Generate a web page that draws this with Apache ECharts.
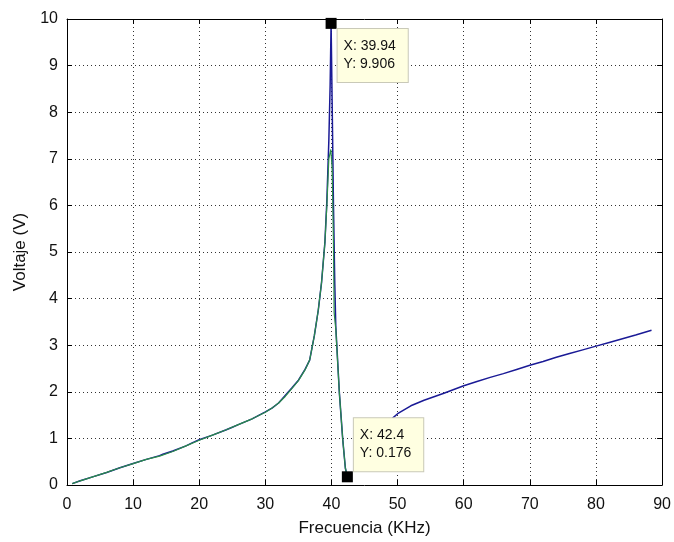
<!DOCTYPE html>
<html>
<head>
<meta charset="utf-8">
<script src="https://cdn.jsdelivr.net/npm/echarts@6/dist/echarts.min.js"></script>
<style>
html,body{margin:0;padding:0;background:#fff;}
#chart{width:674px;height:542px;}
</style>
</head>
<body>
<div id="chart"></div>
<script>
// Blue trace (measured), null breaks the line between the two branches
var freqBlue = [0.8, 2, 4, 6, 8, 10, 12, 14, 14.5, 16, 18, 19, 20, 22, 24, 25, 26, 28, 30, 31, 32, 33, 33.5, 34, 35, 36, 36.7, 37.4, 38, 38.5, 39, 39.3, 39.6, 39.8, 39.94, 40.1, 40.3, 40.5, 40.65, 41.2, 41.7, 42.1, 42.4,
  45,
  49.2, 50, 52, 54, 57, 60, 62, 64, 66, 68, 70, 72, 74, 76, 78, 80, 82, 84, 86, 88.4];
var voltBlue = [0.03, 0.09, 0.18, 0.27, 0.37, 0.46, 0.55, 0.63, 0.66, 0.73, 0.84, 0.91, 0.97, 1.07, 1.18, 1.24, 1.3, 1.42, 1.57, 1.65, 1.76, 1.92, 2.0, 2.08, 2.25, 2.48, 2.68, 3.2, 3.75, 4.35, 5.2, 6.1, 7.4, 8.6, 9.906, 8.2, 6.0, 4.3, 3.4, 1.96, 0.98, 0.36, 0.176,
  null,
  1.43, 1.53, 1.7, 1.82, 1.97, 2.13, 2.22, 2.31, 2.39, 2.48, 2.57, 2.65, 2.74, 2.82, 2.9, 2.98, 3.06, 3.14, 3.22, 3.32];
// Green trace (simulated)
var freqGreen = [0.8, 2, 4, 6, 8, 10, 12, 14, 16, 18, 20, 22, 24, 26, 28, 30, 31, 32, 33, 34, 35, 36, 36.7, 37.4, 38, 38.5, 39, 39.3, 39.6, 39.9, 40.1, 40.3, 40.4, 40.65, 41.2, 41.7, 42.1, 42.4];
var voltGreen = [0.03, 0.09, 0.18, 0.27, 0.37, 0.46, 0.55, 0.62, 0.72, 0.84, 0.96, 1.07, 1.18, 1.3, 1.42, 1.56, 1.65, 1.76, 1.9, 2.07, 2.24, 2.47, 2.68, 3.2, 3.75, 4.35, 5.2, 6.0, 7.0, 7.2, 6.8, 5.2, 3.7, 3.35, 1.96, 0.98, 0.36, 0.176];
// Data tips
var tipPeak = [39.94, 9.906];
var tipLow = [42.4, 0.176];
var xTicks = [0, 10, 20, 30, 40, 50, 60, 70, 80, 90];
var yTicks = [0, 1, 2, 3, 4, 5, 6, 7, 8, 9, 10];

function pairs(xs, ys) { return xs.map(function (x, i) { return [x, ys[i]]; }); }

var font = 'Liberation Sans, Arial, sans-serif';
var chart = echarts.init(document.getElementById('chart'), null, {renderer: 'canvas'});

var tipLabel = function (pos) {
  return {
    show: true,
    position: pos,
    align: 'left',
    verticalAlign: 'top',
    formatter: function (p) { return 'X: ' + p.data.coord[0] + '\nY: ' + p.data.coord[1]; },
    fontFamily: font,
    fontSize: 14,
    lineHeight: 18,
    color: '#111',
    backgroundColor: '#ffffe1',
    borderColor: '#c9c9b8',
    borderWidth: 1,
    padding: [8, 12, 9, 6]
  };
};

var axisCommon = {
  type: 'value',
  axisLine: {show: true, onZero: false, lineStyle: {color: '#000', width: 1}},
  axisTick: {show: true, inside: true, length: 5, lineStyle: {color: '#000'}},
  splitLine: {show: false}
};

chart.setOption({
  animation: false,
  backgroundColor: '#ffffff',
  grid: {left: 67, right: 7, top: 19, bottom: 53, containLabel: false},
  xAxis: [
    Object.assign({}, axisCommon, {
      position: 'bottom', min: 0, max: 90, interval: 10,
      axisLabel: {show: true, margin: 12, fontFamily: font, fontSize: 16, color: '#111',
        formatter: function (v) { return xTicks.indexOf(v) >= 0 ? String(v) : ''; }},
      splitLine: {show: true, lineStyle: {color: '#333', width: 1, type: [1, 3]}},
      name: 'Frecuencia (KHz)', nameLocation: 'middle', nameGap: 35,
      nameTextStyle: {fontFamily: font, fontSize: 17, color: '#111'}
    }),
    Object.assign({}, axisCommon, {
      position: 'top', min: 0, max: 90, interval: 10, axisLabel: {show: false}
    })
  ],
  yAxis: [
    Object.assign({}, axisCommon, {
      position: 'left', min: 0, max: 10, interval: 1,
      axisLabel: {show: true, margin: 9, fontFamily: font, fontSize: 16, color: '#111',
        formatter: function (v) { return yTicks.indexOf(v) >= 0 ? String(v) : ''; }},
      splitLine: {show: true, lineStyle: {color: '#333', width: 1, type: [1, 3]}},
      name: 'Voltaje (V)', nameLocation: 'middle', nameGap: 36,
      nameTextStyle: {fontFamily: font, fontSize: 17, color: '#111'}
    }),
    Object.assign({}, axisCommon, {
      position: 'right', min: 0, max: 10, interval: 1, axisLabel: {show: false}
    })
  ],
  series: [
    {
      type: 'line', name: 'blue', xAxisIndex: 0, yAxisIndex: 0,
      data: pairs(freqBlue, voltBlue), connectNulls: false,
      showSymbol: false, symbol: 'none',
      lineStyle: {color: '#1a1a96', width: 1.5},
      z: 3
    },
    {
      type: 'line', name: 'green', xAxisIndex: 0, yAxisIndex: 0,
      data: pairs(freqGreen, voltGreen),
      showSymbol: false, symbol: 'none',
      lineStyle: {color: '#2a8c4a', width: 1.2},
      z: 4,
      markPoint: {
        symbol: 'rect', symbolSize: 11,
        itemStyle: {color: '#000'},
        z: 10,
        data: [
          {coord: tipPeak, label: tipLabel([12, 11])},
          {coord: tipLow, label: tipLabel([12, -53])}
        ]
      }
    }
  ]
});
</script>
</body>
</html>
